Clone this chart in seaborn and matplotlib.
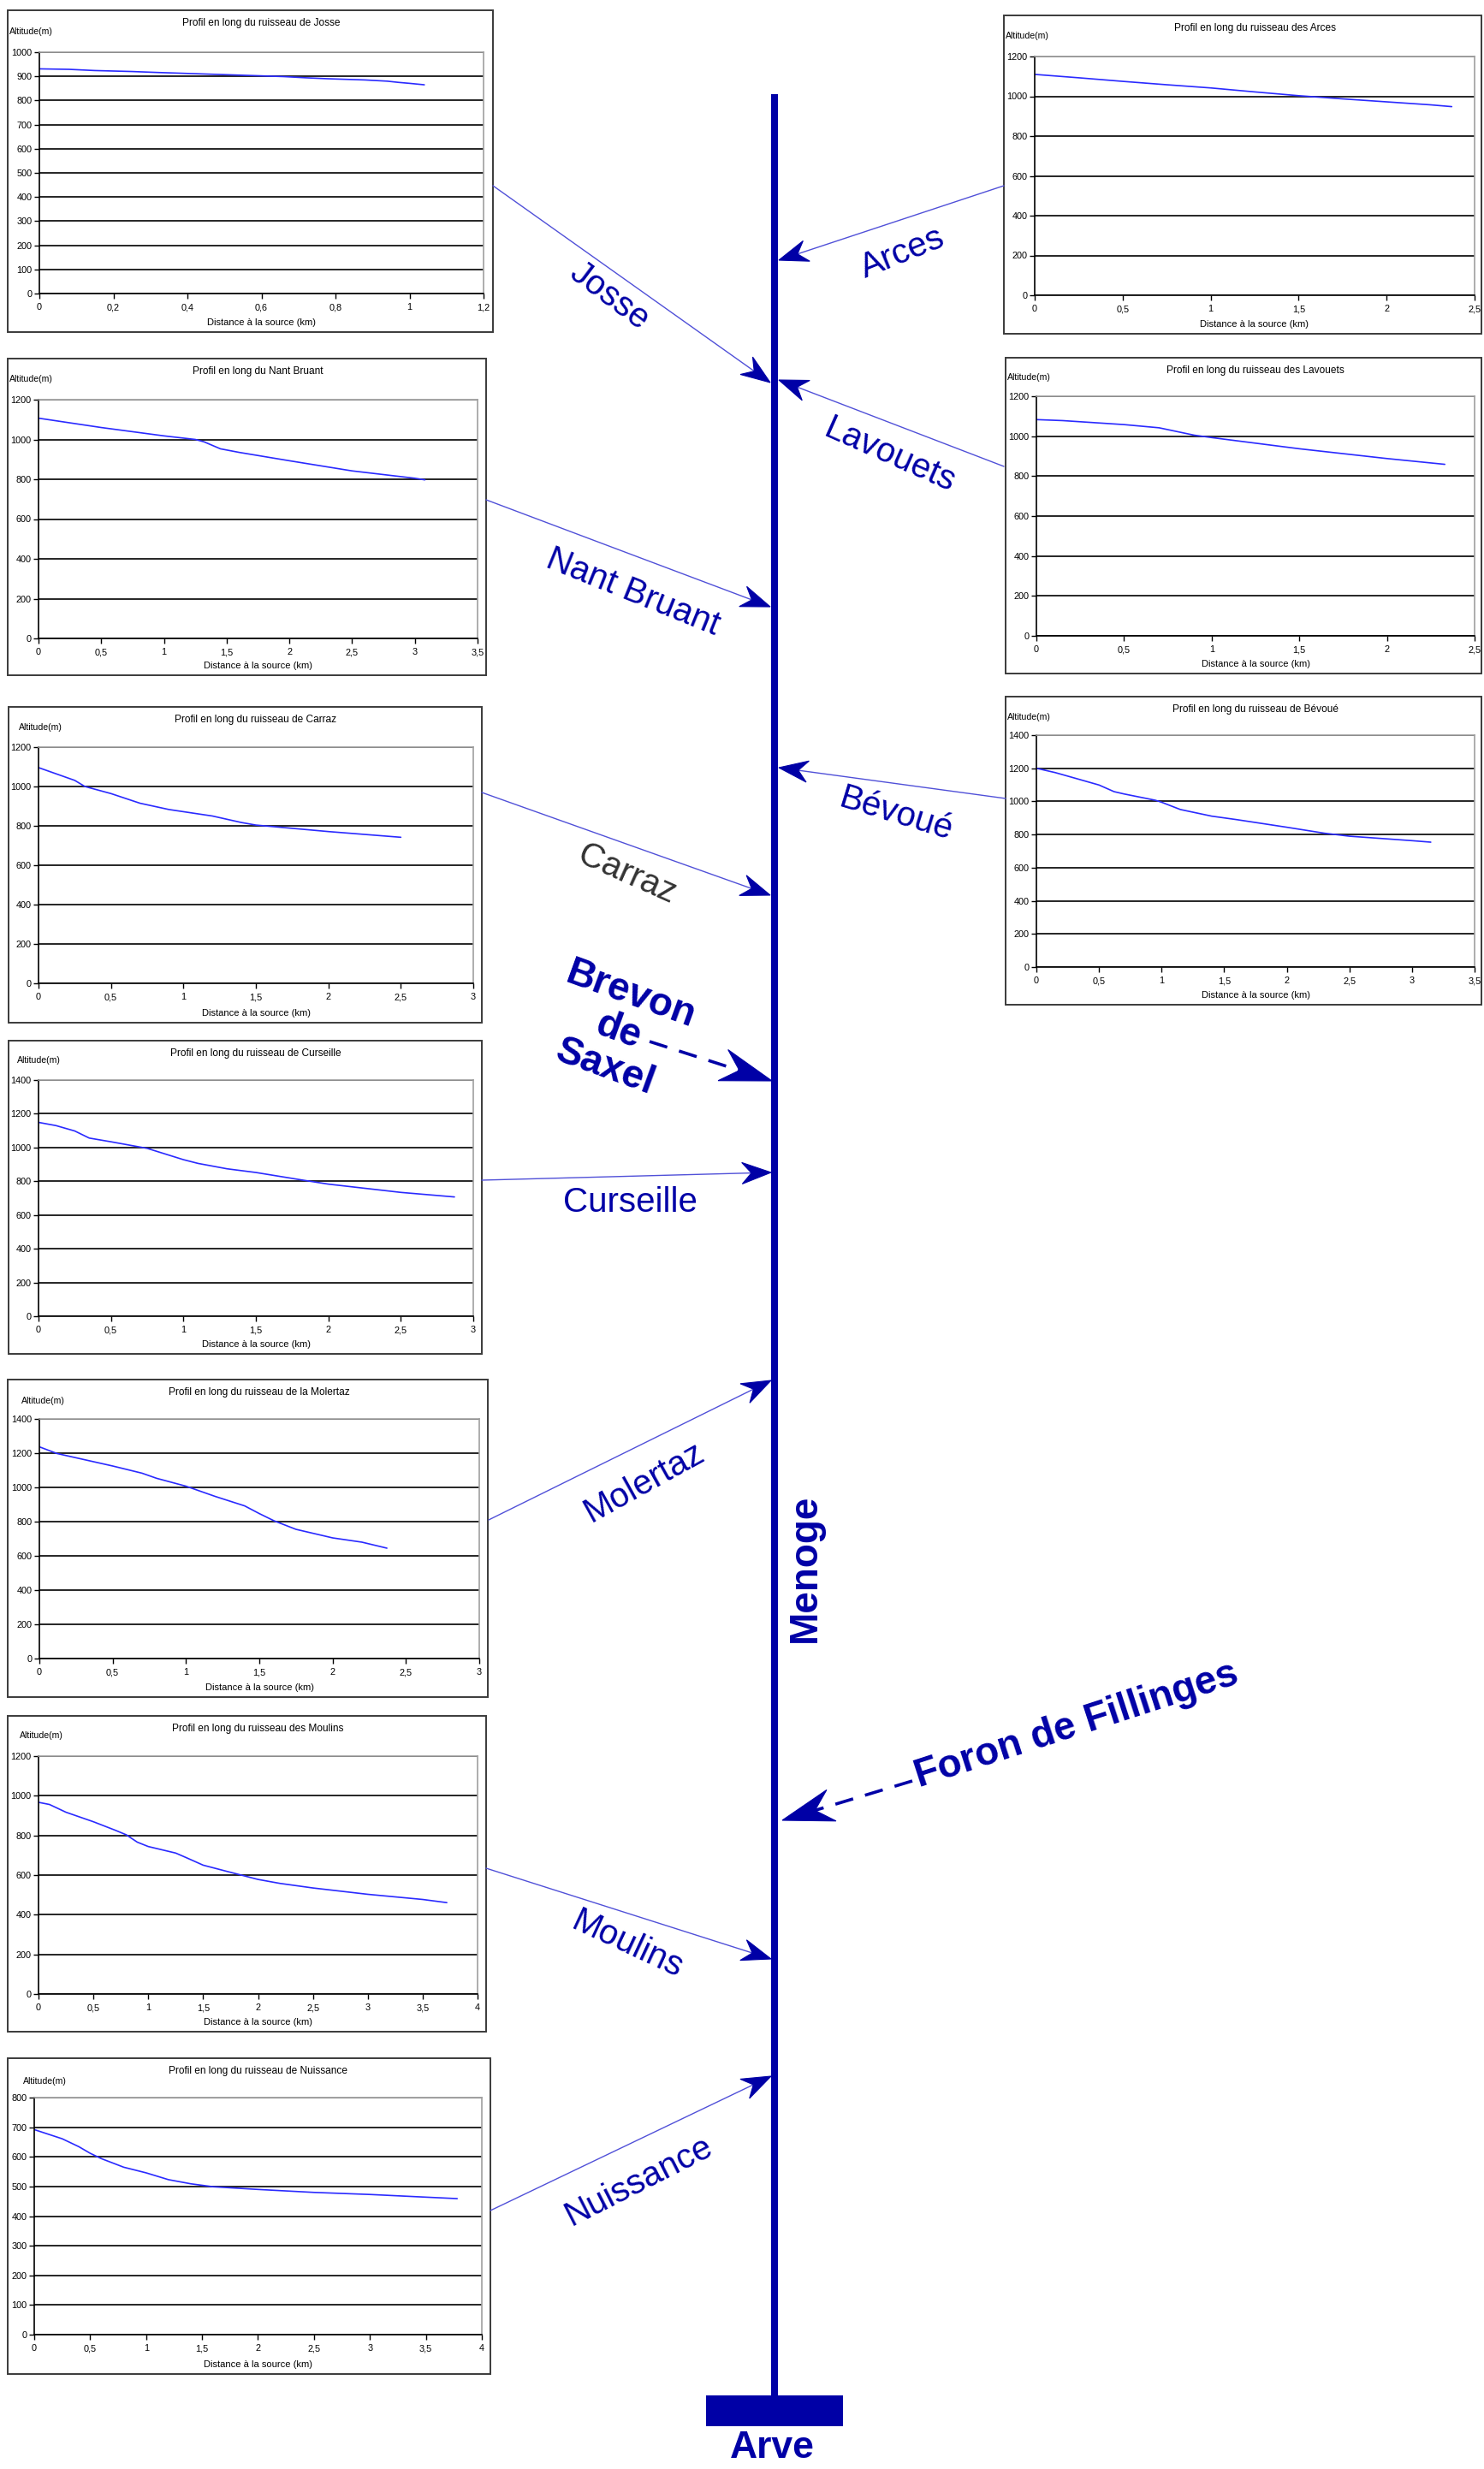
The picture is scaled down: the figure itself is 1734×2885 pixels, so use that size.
import numpy as np
import pandas as pd
import matplotlib
matplotlib.use("Agg")
import matplotlib.pyplot as plt
import seaborn as sns
from matplotlib.patches import Rectangle, Polygon
from matplotlib.ticker import MultipleLocator, FuncFormatter

# ---------------- longitudinal profiles: distance from source (km) / altitude (m)
josse_km = [0, 0.08, 0.15, 0.25, 0.32, 0.40, 0.50, 0.58, 0.66, 0.72, 0.78, 0.88, 0.94, 0.97, 1.00, 1.04]
josse_alt = [931, 929, 924, 920, 916, 912, 907, 903, 899, 894, 890, 885, 880, 875, 871, 865]

arces_km = [0, 0.25, 0.5, 0.75, 1.0, 1.25, 1.5, 1.75, 2.0, 2.25, 2.37]
arces_alt = [1110, 1093, 1075, 1058, 1042, 1022, 1003, 987, 972, 957, 948]

nant_km = [0, 0.5, 1.0, 1.25, 1.32, 1.45, 1.6, 2.0, 2.5, 3.0, 3.08]
nant_alt = [1107, 1060, 1018, 1000, 988, 953, 935, 893, 842, 805, 797]

lavouets_km = [0, 0.15, 0.5, 0.7, 0.9, 1.0, 1.5, 2.0, 2.33]
lavouets_alt = [1083, 1078, 1058, 1042, 1005, 993, 937, 888, 859]

carraz_km = [0, 0.25, 0.32, 0.5, 0.7, 0.9, 1.0, 1.2, 1.4, 1.5, 2.0, 2.5]
carraz_alt = [1096, 1031, 1000, 964, 915, 883, 872, 850, 817, 804, 771, 742]

bevoue_km = [0, 0.15, 0.3, 0.5, 0.62, 0.7, 0.95, 1.0, 1.15, 1.4, 1.6, 2.0, 2.3, 2.5, 3.0, 3.15]
bevoue_alt = [1200, 1174, 1142, 1099, 1059, 1045, 1007, 995, 951, 911, 890, 844, 808, 790, 763, 754]

curseille_km = [0, 0.12, 0.25, 0.35, 0.5, 0.75, 1.0, 1.1, 1.3, 1.5, 1.8, 2.0, 2.5, 2.87]
curseille_alt = [1149, 1130, 1098, 1056, 1034, 995, 928, 906, 874, 852, 810, 783, 734, 707]

molertaz_km = [0, 0.12, 0.5, 0.7, 0.8, 1.0, 1.05, 1.2, 1.4, 1.5, 1.6, 1.75, 2.0, 2.2, 2.37]
molertaz_alt = [1237, 1198, 1125, 1083, 1053, 1007, 992, 947, 892, 847, 805, 755, 705, 680, 645]

moulins_km = [0, 0.1, 0.25, 0.5, 0.7, 0.8, 0.9, 1.0, 1.25, 1.35, 1.5, 1.7, 2.0, 2.2, 2.5, 3.0, 3.5, 3.72]
moulins_alt = [967, 956, 917, 869, 826, 803, 766, 744, 711, 687, 650, 621, 578, 558, 535, 503, 477, 461]

nuissance_km = [0, 0.25, 0.4, 0.5, 0.6, 0.8, 1.0, 1.2, 1.4, 1.6, 2.0, 2.5, 3.0, 3.5, 3.78]
nuissance_alt = [692, 661, 634, 612, 594, 565, 546, 523, 509, 499, 490, 480, 473, 464, 459]

# panel titles
titles = [
    "Profil en long du ruisseau de Josse",
    "Profil en long du ruisseau des Arces",
    "Profil en long du Nant Bruant",
    "Profil en long du ruisseau des Lavouets",
    "Profil en long du ruisseau de Carraz",
    "Profil en long du ruisseau de Bévoué",
    "Profil en long du ruisseau de Curseille",
    "Profil en long du ruisseau de la Molertaz",
    "Profil en long du ruisseau des Moulins",
    "Profil en long du ruisseau de Nuissance",
]
profiles = [
    (josse_km, josse_alt), (arces_km, arces_alt), (nant_km, nant_alt),
    (lavouets_km, lavouets_alt), (carraz_km, carraz_alt), (bevoue_km, bevoue_alt),
    (curseille_km, curseille_alt), (molertaz_km, molertaz_alt),
    (moulins_km, moulins_alt), (nuissance_km, nuissance_alt),
]
# axis ranges: (x max, x step, y max, y step)
axis_ranges = [
    (1.2, 0.2, 1000, 100), (2.5, 0.5, 1200, 200), (3.5, 0.5, 1200, 200),
    (2.5, 0.5, 1200, 200), (3.0, 0.5, 1200, 200), (3.5, 0.5, 1400, 200),
    (3.0, 0.5, 1400, 200), (3.0, 0.5, 1400, 200), (4.0, 0.5, 1200, 200),
    (4.0, 0.5, 800, 100),
]

# tributary labels of the Menoge
trib_names = ["Josse", "Arces", "Lavouets", "Nant Bruant", "Bévoué", "Carraz",
              "Curseille", "Molertaz", "Moulins", "Nuissance"]

# ---------------- layout (pixels, origin top-left)
W, H = 1734, 2885
# panel frame (x0, y0, x1, y1), plot area (x0, y0, x1, y1), "Altitude(m)" anchor
panel_layout = [
    ((9, 12, 576, 388), (46, 61, 565, 343), (11, 37)),
    ((1173, 18, 1731, 390), (1209, 66, 1723, 345), (1175, 42)),
    ((9, 419, 568, 789), (45, 467, 558, 746), (11, 443)),
    ((1175, 418, 1731, 787), (1211, 463, 1723, 743), (1177, 441)),
    ((10, 826, 563, 1195), (45, 873, 553, 1149), (22, 850)),
    ((1175, 814, 1731, 1174), (1211, 859, 1723, 1130), (1177, 838)),
    ((10, 1216, 563, 1582), (45, 1262, 553, 1538), (20, 1239)),
    ((9, 1612, 570, 1983), (46, 1658, 560, 1938), (25, 1637)),
    ((9, 2005, 568, 2374), (45, 2052, 558, 2330), (23, 2028)),
    ((9, 2405, 573, 2774), (40, 2451, 563, 2728), (27, 2432)),
]
# tributary arrows: tail, tip, label centre, label rotation, label colour key
trib_layout = [
    ((576, 217), (900, 447), (712, 346), -37, "blue"),
    ((1173, 217), (910, 304), (1055, 296), 22, "blue"),
    ((1173, 545), (910, 444), (1040, 532), -24, "blue"),
    ((568, 584), (900, 709), (740, 692), -22, "blue"),
    ((1175, 933), (910, 897), (1047, 951), -17, "blue"),
    ((563, 926), (900, 1046), (733, 1022), -24, "grey"),
    ((563, 1379), (901, 1370), (736, 1405), 0, "blue"),
    ((571, 1776), (901, 1613), (753, 1732), 29, "blue"),
    ((568, 2183), (901, 2289), (733, 2272), -25, "blue"),
    ((573, 2583), (901, 2426), (747, 2548), 27, "blue"),
]

DARK_BLUE = "#0000A6"
THIN_BLUE = "#5050d8"
PROFILE_BLUE = "#2a2aff"
LABEL_GREY = "#333333"

sns.set_theme(style="ticks")
plt.rcParams["font.family"] = ["Liberation Sans", "DejaVu Sans"]

fig = plt.figure(figsize=(W / 100, H / 100), dpi=100)
ov = fig.add_axes([0, 0, 1, 1], zorder=0)
ov.set_xlim(0, W)
ov.set_ylim(H, 0)
ov.axis("off")


def frac_box(x0, y0, x1, y1):
    return [x0 / W, 1 - y1 / H, (x1 - x0) / W, (y1 - y0) / H]


comma = FuncFormatter(lambda v, p: f"{v:g}".replace(".", ","))

# ---------------- profile panels
for title, (km, alt), (xmax, xstep, ymax, ystep), (frame, area, alt_pos) in zip(
        titles, profiles, axis_ranges, panel_layout):
    fx0, fy0, fx1, fy1 = frame
    ov.add_patch(Rectangle((fx0, fy0), fx1 - fx0, fy1 - fy0, fill=False,
                           edgecolor="#3a3a3a", lw=1.4, zorder=1))
    ax0, ay0, ax1, ay1 = area
    ov.text((ax0 + ax1) / 2, fy0 + 15, title, ha="center", va="center",
            fontsize=8.6, color="black")
    ov.text(alt_pos[0], alt_pos[1], "Altitude(m)", ha="left", va="center",
            fontsize=7.6, color="black")
    ov.text((ax0 + ax1) / 2, fy1 - 11, "Distance à la source (km)", ha="center",
            va="center", fontsize=8, color="black")

    ax = fig.add_axes(frac_box(*area), zorder=2)
    df = pd.DataFrame({"km": km, "alt": alt})
    sns.lineplot(data=df, x="km", y="alt", ax=ax, color=PROFILE_BLUE, lw=1.2)
    ax.set_xlim(0, xmax)
    ax.set_ylim(0, ymax)
    ax.xaxis.set_major_locator(MultipleLocator(xstep))
    ax.yaxis.set_major_locator(MultipleLocator(ystep))
    ax.xaxis.set_major_formatter(comma)
    ax.yaxis.set_major_formatter(comma)
    ax.set_xlabel("")
    ax.set_ylabel("")
    ax.set_facecolor("white")
    ax.set_axisbelow(True)
    ax.grid(axis="y", color="black", lw=1.2)
    ax.grid(axis="x", visible=False)
    for side in ("left", "bottom"):
        ax.spines[side].set_color("black")
        ax.spines[side].set_linewidth(1.2)
    for side in ("top", "right"):
        ax.spines[side].set_visible(True)
        ax.spines[side].set_color("#a0a0a0")
        ax.spines[side].set_linewidth(1.2)
    ax.tick_params(axis="both", direction="out", length=4, width=1,
                   color="black", labelsize=7.8, pad=2, labelcolor="black")
    ax.tick_params(axis="x", pad=4)


# ---------------- schematic of the Menoge and its tributaries
def arrow_head(tail, tip, length, half_w, notch, color, zorder=4):
    t = np.array(tail, float)
    p = np.array(tip, float)
    u = (p - t) / np.hypot(*(p - t))
    n = np.array([-u[1], u[0]])
    back = p - length * u
    pts = [p, back + half_w * n, p - (length - notch) * u, back - half_w * n]
    ov.add_patch(Polygon(pts, closed=True, facecolor=color, edgecolor=color,
                         lw=0.8, zorder=zorder))
    return p - (length - notch) * u


# main stream
ov.plot([905, 905], [110, 2800], color=DARK_BLUE, lw=5.8, solid_capstyle="butt", zorder=3)
ov.add_patch(Rectangle((825, 2799), 160, 36, facecolor=DARK_BLUE, edgecolor="none", zorder=3))
ov.text(902, 2861, "Arve", ha="center", va="center", fontsize=32,
        fontweight="bold", color=DARK_BLUE)
ov.text(941, 1832, "Menoge", ha="center", va="center", rotation=90,
        fontsize=33, fontweight="bold", color=DARK_BLUE)

# tributaries with profiles
for name, (tail, tip, lab, rot, ckey) in zip(trib_names, trib_layout):
    end = arrow_head(tail, tip, 34, 12.5, 11, DARK_BLUE)
    ov.plot([tail[0], end[0]], [tail[1], end[1]], color=THIN_BLUE, lw=1.0, zorder=3)
    ov.text(lab[0], lab[1], name, ha="center", va="center", rotation=rot,
            rotation_mode="anchor", fontsize=29,
            color=LABEL_GREY if ckey == "grey" else DARK_BLUE)

# major tributaries (dashed)
for tail, tip in [((759, 1217), (902, 1263)), ((1066, 2081), (914, 2127))]:
    end = arrow_head(tail, tip, 60, 19, 20, DARK_BLUE)
    ov.plot([tail[0], end[0]], [tail[1], end[1]], color=DARK_BLUE, lw=2.6,
            dashes=(6, 4), zorder=3)

ov.text(722, 1205, "Brevon\nde\nSaxel", ha="center", va="center", rotation=-20,
        rotation_mode="anchor", multialignment="center", linespacing=1.02,
        fontsize=33, fontweight="bold", color=DARK_BLUE)
ov.text(1258, 2016, "Foron de Fillinges", ha="center", va="center", rotation=18,
        rotation_mode="anchor", fontsize=33, fontweight="bold", color=DARK_BLUE)

fig.savefig("out.png", dpi=100, facecolor="white")
